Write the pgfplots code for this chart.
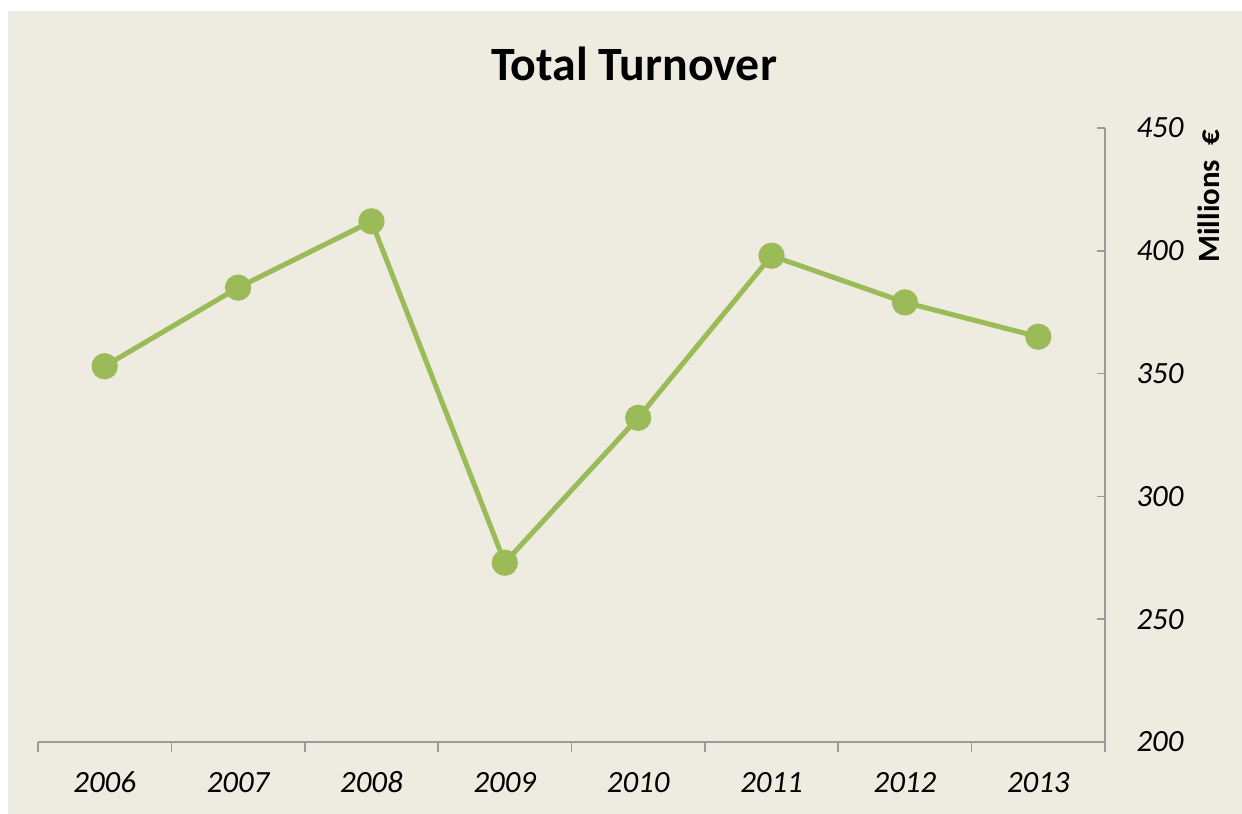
\documentclass[border=0pt]{standalone}
\usepackage{pgfplots}
\pgfplotsset{compat=1.18}
\usepackage{fontspec}
\setmainfont{Carlito}
\definecolor{bgbeige}{HTML}{EEEBE0}
\definecolor{lgreen}{HTML}{9BBB59}
\definecolor{axgray}{HTML}{9A9A9A}
\begin{document}
\begin{tikzpicture}
\fill[white] (0,0) rectangle (621bp,-407bp);
\fill[bgbeige] (4bp,-5.5bp) rectangle (621bp,-407bp);
\node[font=\bfseries\fontsize{24}{28}\selectfont, anchor=center] at (317bp,-32bp) {Total Turnover};
\begin{axis}[
  at={(19bp,-371bp)}, anchor=south west,
  scale only axis, width=533.5bp, height=307bp,
  xmin=-0.5, xmax=7.5, ymin=200, ymax=450,
  axis x line=bottom, axis y line=right,
  axis line style={draw=axgray, line width=0.8bp, -},
  tick align=inside,
  xtick={0,...,7},
  xticklabels={2006,2007,2008,2009,2010,2011,2012,2013},
  major x tick style={draw=none},
  minor xtick={-0.5,0.5,...,7.5},
  minor x tick style={draw=axgray, line width=0.8bp, yshift=-5bp},
  minor tick length=5bp,
  ytick={200,250,...,450},
  major tick length=4bp,
  y tick style={draw=axgray, line width=0.8bp},
  ticklabel style={font=\itshape\fontsize{15.5}{18}\selectfont, text=black},
  xticklabel style={anchor=base, yshift=-25bp},
  yticklabel style={anchor=center, xshift=27.5bp},
  /pgf/number format/assume math mode=true,
  clip=false,
]
\addplot[color=lgreen, line width=2.5bp, mark=*, mark size=5.3bp, mark options={fill=lgreen, draw=none}]
coordinates {(0,353) (1,385) (2,412) (3,273) (4,332) (5,398) (6,379) (7,365)};
\node[rotate=90, anchor=center, font=\bfseries\fontsize{15.5}{18}\selectfont] at ([xshift=52bp, yshift=-34.25bp]rel axis cs:1,1) {Millions~~€};
\end{axis}
\pgfresetboundingbox
\useasboundingbox (0,0) rectangle (621bp,-407bp);
\end{tikzpicture}
\end{document}
